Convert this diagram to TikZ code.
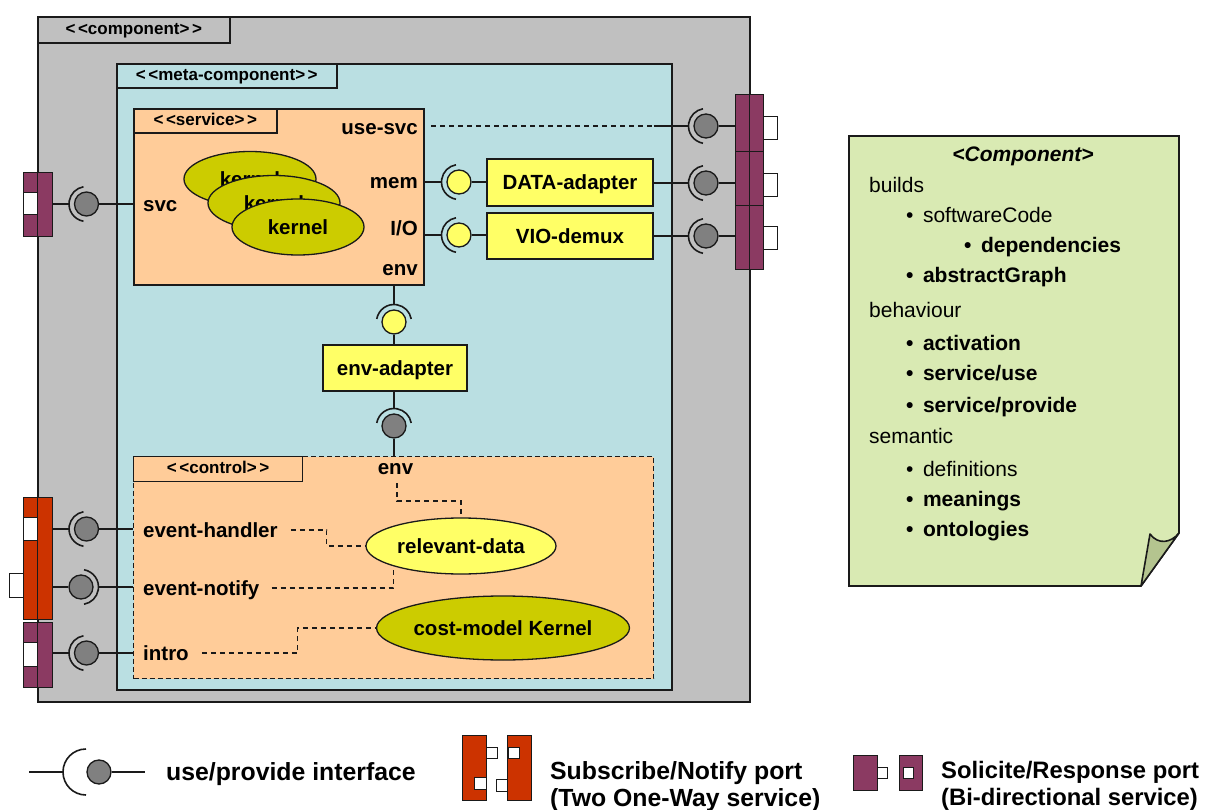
\documentclass[tikz,border=0pt]{standalone}
\usepackage{fontspec}
\setmainfont{Liberation Sans}
\usetikzlibrary{calc,shapes.geometric}

\definecolor{compgray}{HTML}{C0C0C0}
\definecolor{metacyan}{HTML}{BADFE2}
\definecolor{peach}{HTML}{FFCC99}
\definecolor{kernelolive}{HTML}{CCCC00}
\definecolor{adapteryellow}{HTML}{FFFF66}
\definecolor{portplum}{HTML}{8B3A62}
\definecolor{portorange}{HTML}{CC3300}
\definecolor{ballgray}{HTML}{808080}
\definecolor{notegreen}{HTML}{D9EAB3}
\definecolor{foldgreen}{HTML}{B4C48F}
\definecolor{edge}{HTML}{1A1A1A}

% stereotype label with spaced angle brackets
\newcommand\stereo[1]{<\kern2.5pt<#1>\kern2.5pt>}
% socket arc around an interface ball, centred on the given direction
\newcommand\socket[2]{%
  \pgfmathsetmacro\sockA{#2-80}\pgfmathsetmacro\sockB{#2+80}%
  \draw[sockline] ($(#1.center)+(\sockA:17.5)$) arc[start angle=\sockA, end angle=\sockB, radius=17.5];}

\begin{document}
\begin{tikzpicture}[x=1pt, y=-1pt,
  frame/.style={draw=edge, line width=1.6pt},
  ctrlframe/.style={draw=edge, line width=1.2pt, dash pattern=on 5pt off 3pt},
  tabfont/.style={font=\fontsize{17}{20}\selectfont\bfseries, inner sep=0pt, text height=12.5pt, text depth=3.5pt},
  lbl/.style={font=\fontsize{20.5}{24}\selectfont\bfseries, inner sep=0pt, text height=18pt, text depth=3.5pt},
  kernelshape/.style={ellipse, draw=edge, line width=1.3pt, fill=kernelolive, inner sep=0pt, lbl},
  adapter/.style={draw=edge, line width=1.3pt, fill=adapteryellow, inner sep=0pt, lbl},
  ball/.style={circle, draw=edge, line width=1.3pt, minimum size=24pt, inner sep=0pt},
  sockline/.style={draw=edge, line width=1.6pt},
  wire/.style={draw=edge, line width=2pt},
  dashwire/.style={draw=edge, line width=1.1pt, dash pattern=on 5pt off 4pt},
  portbox/.style={draw=edge, line width=1.3pt, inner sep=0pt, anchor=north west},
  whitebox/.style={draw=edge, line width=1.3pt, fill=white, inner sep=0pt, anchor=north west},
  notefont/.style={font=\fontsize{21}{24}\selectfont, inner sep=0pt, anchor=base west},
  notebold/.style={notefont, font=\fontsize{21}{24}\selectfont\bfseries},
  legendfont/.style={font=\fontsize{24.8}{27}\selectfont\bfseries, inner sep=0pt}
]
\useasboundingbox (0,0) rectangle (1208,810);

% ---------- outer component ----------
\node[frame, fill=compgray, minimum width=712pt, minimum height=685pt, anchor=north west] (component) at (37,16) {};
\node[frame, fill=compgray, minimum width=192pt, minimum height=26pt, anchor=north west, tabfont] (componentTab) at (37,16) {\stereo{component}};

% ---------- meta-component ----------
\node[frame, fill=metacyan, minimum width=555pt, minimum height=626pt, anchor=north west] (meta) at (116,63) {};
\node[frame, fill=metacyan, minimum width=220pt, minimum height=24pt, anchor=north west, tabfont] (metaTab) at (116,63) {\stereo{meta-component}};

% ---------- service ----------
\node[frame, fill=peach, minimum width=290pt, minimum height=176pt, anchor=north west] (service) at (133,108) {};
\node[frame, fill=peach, minimum width=143pt, minimum height=24pt, anchor=north west, tabfont] (serviceTab) at (133,108) {\stereo{service}};

\node[kernelshape, minimum width=132pt, minimum height=55pt] (k1) at (250,179) {kernel};
\node[kernelshape, minimum width=132pt, minimum height=55pt] (k2) at (274,203) {kernel};
\node[kernelshape, minimum width=132pt, minimum height=56pt] (k3) at (298,227) {kernel};

\node[lbl, anchor=east] (lUse) at (418,127) {use-svc};
\node[lbl, anchor=east] (lMem) at (418,181) {mem};
\node[lbl, anchor=east] (lIO) at (418,228) {I/O};
\node[lbl, anchor=east] (lEnvS) at (418,268) {env};
\node[lbl, anchor=west] (lSvc) at (143,204) {svc};

% ---------- adapters ----------
\node[adapter, minimum width=166pt, minimum height=47pt] (dataAd) at (570,182.5) {DATA-adapter};
\node[adapter, minimum width=166pt, minimum height=46pt] (vioAd) at (570,236) {VIO-demux};
\node[adapter, minimum width=144pt, minimum height=46pt] (envAd) at (395,368) {env-adapter};

% ---------- control ----------
\node[ctrlframe, fill=peach, minimum width=520pt, minimum height=222pt, anchor=north west] (control) at (133,456) {};
\node[draw=edge, line width=1.3pt, fill=peach, minimum width=169pt, minimum height=25pt, anchor=north west, tabfont] (controlTab) at (133,456) {\stereo{control}};

\node[lbl] (lEnvC) at (395.5,467) {env};
\node[lbl, anchor=west] (lHandler) at (143,530) {event-handler};
\node[lbl, anchor=west] (lNotify) at (143,588) {event-notify};
\node[lbl, anchor=west] (lIntro) at (143,653) {intro};

\node[kernelshape, fill=adapteryellow, minimum width=190pt, minimum height=56pt] (relData) at (461,546) {relevant-data};
\node[kernelshape, minimum width=220pt, minimum height=64pt] (costK) at (503,628) {cost-model Kernel};

% internal dashed dependencies
\coordinate (envTail) at (397,483);
\draw[dashwire] (envTail) -- ++(0,18) -| (relData.north);
\draw[dashwire] ([xshift=13pt]lHandler.east) -- ++(36,0) |- (relData.west);
\draw[dashwire] ([xshift=12pt]lNotify.east) -| (relData.south west);
\draw[dashwire] ([xshift=13pt]lIntro.east) -- ++(96,0) |- (costK.west);

% ---------- right ports (solicite/response) ----------
\node[portbox, fill=portplum, minimum width=14pt, minimum height=57pt] (pR1a) at (735,94) {};
\node[portbox, fill=portplum, minimum width=14pt, minimum height=57pt] (pR1b) at (749,94) {};
\node[whitebox, minimum width=14pt, minimum height=23pt] (pR1w) at (763,116) {};
\node[portbox, fill=portplum, minimum width=14pt, minimum height=54pt] (pR2a) at (735,151) {};
\node[portbox, fill=portplum, minimum width=14pt, minimum height=54pt] (pR2b) at (749,151) {};
\node[whitebox, minimum width=14pt, minimum height=23pt] (pR2w) at (763,173) {};
\node[portbox, fill=portplum, minimum width=14pt, minimum height=64pt] (pR3a) at (735,205) {};
\node[portbox, fill=portplum, minimum width=14pt, minimum height=64pt] (pR3b) at (749,205) {};
\node[whitebox, minimum width=14pt, minimum height=23pt] (pR3w) at (763,226) {};

% ---------- left ports ----------
\node[portbox, fill=portplum, minimum width=14pt, minimum height=64pt] (pSa) at (23,172) {};
\node[portbox, fill=portplum, minimum width=15pt, minimum height=64pt] (pSb) at (37,172) {};
\node[whitebox, minimum width=14pt, minimum height=22pt] (pSw) at (23,192) {};

\node[portbox, fill=portorange, minimum width=14pt, minimum height=122pt] (pOa) at (23,497) {};
\node[portbox, fill=portorange, minimum width=15pt, minimum height=122pt] (pOb) at (37,497) {};
\node[whitebox, minimum width=14pt, minimum height=23pt] (pOw1) at (23,517) {};
\node[whitebox, minimum width=14pt, minimum height=24pt] (pOw2) at (9,573) {};

\node[portbox, fill=portplum, minimum width=14pt, minimum height=65pt] (pIa) at (23,622) {};
\node[portbox, fill=portplum, minimum width=15pt, minimum height=65pt] (pIb) at (37,622) {};
\node[whitebox, minimum width=14pt, minimum height=24pt] (pIw) at (23,642) {};

% ---------- interfaces ----------
\node[ball, fill=ballgray] (bSvc) at (86.5,204) {};
\node[ball, fill=ballgray] (bH) at (86.5,529) {};
\node[ball, fill=ballgray] (bN) at (81,587) {};
\node[ball, fill=ballgray] (bI) at (86.5,653) {};
\node[ball, fill=ballgray] (bUse) at (706,126) {};
\node[ball, fill=ballgray] (bData) at (706,183) {};
\node[ball, fill=ballgray] (bVio) at (706,236) {};
\node[ball, fill=adapteryellow] (yMem) at (459,182) {};
\node[ball, fill=adapteryellow] (yIO) at (459,235) {};
\node[ball, fill=adapteryellow] (yEnv) at (394,322) {};
\node[ball, fill=ballgray] (bEnv) at (394,426) {};

\socket{bSvc}{180}
\socket{bH}{180}
\socket{bN}{0}
\socket{bI}{180}
\socket{bUse}{180}
\socket{bData}{180}
\socket{bVio}{180}
\socket{yMem}{180}
\socket{yIO}{180}
\socket{yEnv}{270}
\socket{bEnv}{270}

% left wiring
\draw[wire] (pSb.east |- bSvc) -- ($(bSvc)+(-17.5,0)$);
\draw[wire] (bSvc) -- (service.west |- bSvc);
\draw[wire] (pOb.east |- bH) -- ($(bH)+(-17.5,0)$);
\draw[wire] (bH) -- (control.west |- bH);
\draw[wire] (pOb.east |- bN) -- (bN);
\draw[wire] ($(bN)+(17.5,0)$) -- (control.west |- bN);
\draw[wire] (pIb.east |- bI) -- ($(bI)+(-17.5,0)$);
\draw[wire] (bI) -- (control.west |- bI);

% right wiring
\draw[dashwire] ([xshift=13pt]lUse.east |- bUse) -- (dataAd.east |- bUse);
\draw[wire] (dataAd.east |- bUse) -- ($(bUse)+(-17.5,0)$);
\draw[wire] (bUse) -- (pR1a.west |- bUse);
\draw[wire] (dataAd.east |- bData) -- ($(bData)+(-17.5,0)$);
\draw[wire] (bData) -- (pR2a.west |- bData);
\draw[wire] (vioAd.east |- bVio) -- ($(bVio)+(-17.5,0)$);
\draw[wire] (bVio) -- (pR3a.west |- bVio);
\draw[wire] (service.east |- yMem) -- ($(yMem)+(-17.5,0)$);
\draw[wire] (yMem) -- (dataAd.west |- yMem);
\draw[wire] (service.east |- yIO) -- ($(yIO)+(-17.5,0)$);
\draw[wire] (yIO) -- (vioAd.west |- yIO);

% env chain
\draw[wire] (service.south -| yEnv) -- ($(yEnv)+(0,-17.5)$);
\draw[wire] (yEnv) -- (envAd.north -| yEnv);
\draw[wire] (envAd.south -| bEnv) -- ($(bEnv)+(0,-17.5)$);
\draw[wire] (bEnv) -- (control.north -| bEnv);

% ---------- note ----------
\path[draw=edge, line width=1.6pt, fill=notegreen]
  (849,136) -- (1179,136) -- (1179,533) -- (1141,586) -- (849,586) -- cycle;
\path[draw=edge, line width=1.6pt, fill=foldgreen, line join=round]
  (1141,586) -- (1150,534) .. controls (1158,545) and (1171,543) .. (1179,533) -- cycle;
\node[notefont, anchor=base, font=\fontsize{21}{24}\selectfont\bfseries\itshape] (nTitle) at (1023,162) {<Component>};
\node[notefont] (nBuilds) at (869,193) {builds};
\node[notefont] (nCode) at (906,223) {•\hspace{9.5pt}softwareCode};
\node[notebold] (nDeps) at (964,253) {•\hspace{9.5pt}dependencies};
\node[notebold] (nGraph) at (906,283) {•\hspace{9.5pt}abstractGraph};
\node[notefont] (nBehav) at (869,318) {behaviour};
\node[notebold] (nAct) at (906,351) {•\hspace{9.5pt}activation};
\node[notebold] (nUse) at (906,381) {•\hspace{9.5pt}service/use};
\node[notebold] (nProv) at (906,412) {•\hspace{9.5pt}service/provide};
\node[notefont] (nSem) at (869,443) {semantic};
\node[notefont] (nDef) at (906,476) {•\hspace{9.5pt}definitions};
\node[notebold] (nMean) at (906,506) {•\hspace{9.5pt}meanings};
\node[notebold] (nOnto) at (906,536) {•\hspace{9.5pt}ontologies};

% ---------- legend ----------
\coordinate (legL) at (29,772);
\coordinate (legR) at (145,772);
\node[ball, fill=ballgray] (legBall) at (99,772) {};
\draw[sockline] (86,749) arc[start angle=270, end angle=90, radius=23];
\draw[wire, line width=1.6pt] (legL) -- (63,772);
\draw[wire, line width=1.6pt] (legBall) -- (legR);
\node[legendfont, anchor=west, text height=20pt, text depth=3.5pt] (legIface) at (166,772) {use/provide interface};

\node[portbox, fill=portorange, minimum width=24pt, minimum height=65pt] (legOa) at (462,735) {};
\node[portbox, fill=portorange, minimum width=24pt, minimum height=65pt] (legOb) at (507,735) {};
\node[whitebox, minimum width=11pt, minimum height=11pt] (legOw1) at (486,747) {};
\node[whitebox, minimum width=11pt, minimum height=11pt] (legOw2) at (508,747) {};
\node[whitebox, minimum width=12pt, minimum height=12pt] (legOw3) at (474,777) {};
\node[whitebox, minimum width=11pt, minimum height=12pt] (legOw4) at (496,779) {};
\node[legendfont, anchor=north west, align=left] (legSub) at (550,761) {Subscribe/Notify port\\(Two One-Way service)};

\node[portbox, fill=portplum, minimum width=24pt, minimum height=35pt] (legPa) at (853,755) {};
\node[portbox, fill=portplum, minimum width=23pt, minimum height=35pt] (legPb) at (899,755) {};
\node[whitebox, minimum width=10pt, minimum height=11pt] (legPw1) at (877,767) {};
\node[whitebox, minimum width=10pt, minimum height=11pt] (legPw2) at (903,767) {};
\node[legendfont, font=\fontsize{23.8}{27}\selectfont\bfseries, anchor=north west, align=left] (legSol) at (941,761) {Solicite/Response port\\(Bi-directional service)};

\end{tikzpicture}
\end{document}
